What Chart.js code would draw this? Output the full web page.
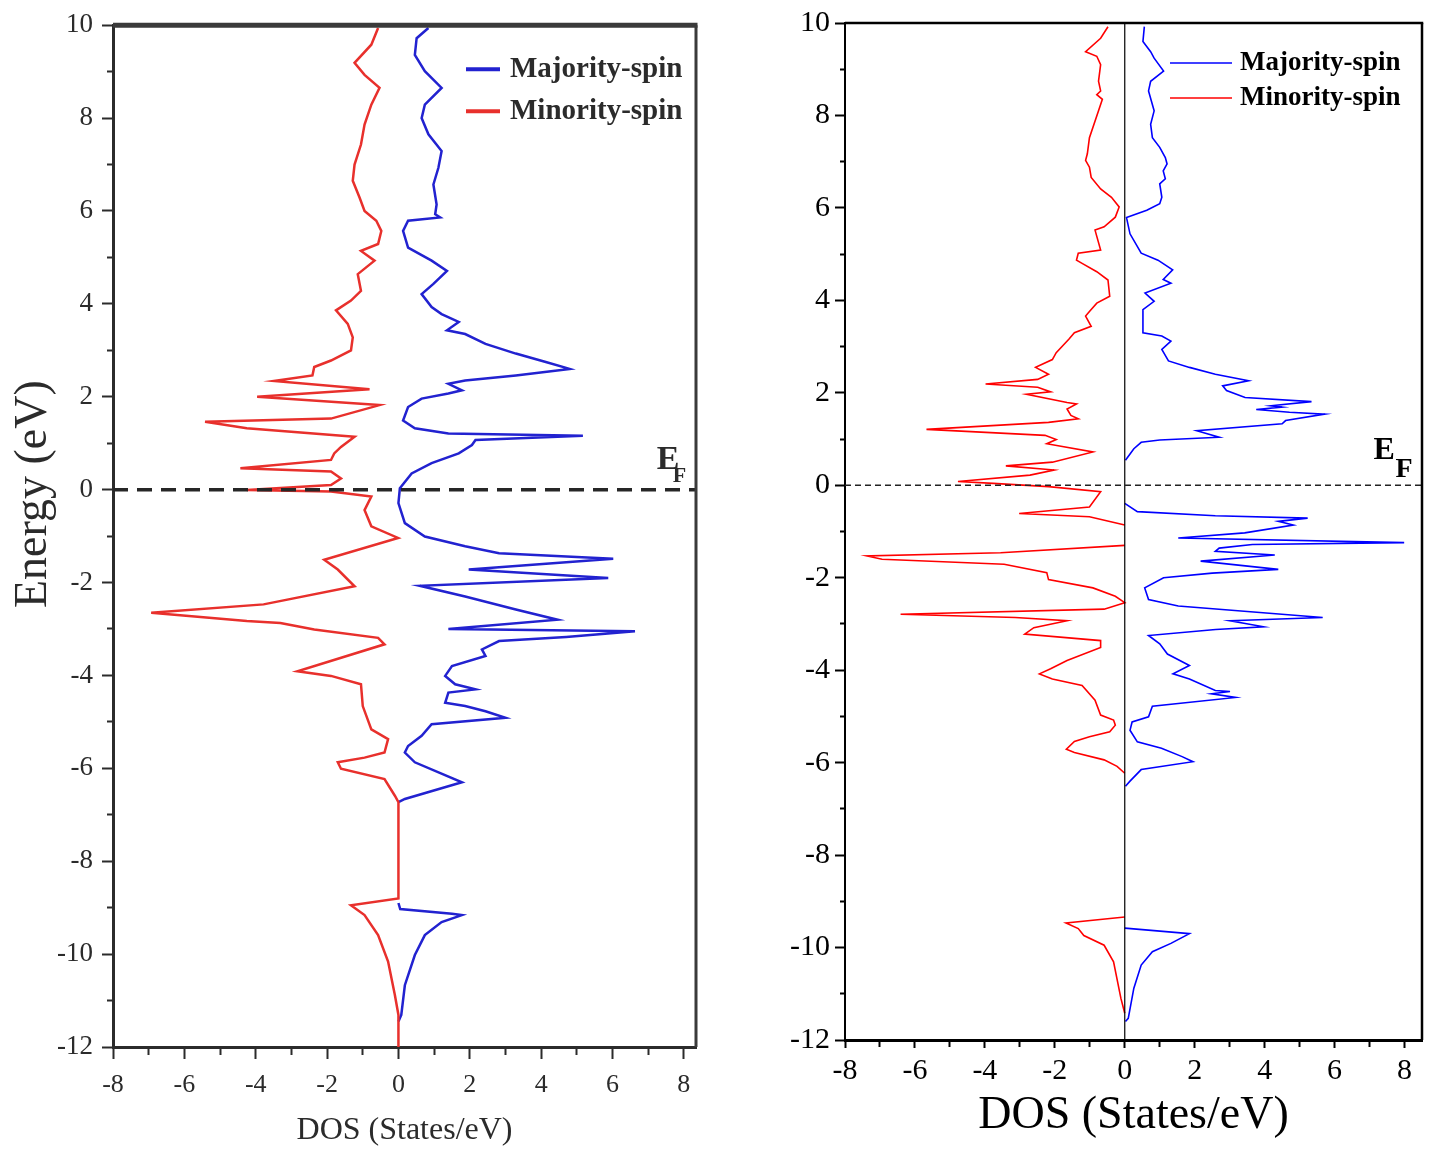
<!DOCTYPE html>
<html>
<head>
<meta charset="utf-8">
<title>DOS - majority / minority spin</title>
<script src="https://cdn.jsdelivr.net/npm/chart.js@4.4.1/dist/chart.umd.min.js"></script>
<style>
  body { margin: 0; background: #fff; width: 1432px; height: 1151px; position: relative; overflow: hidden; }
  #leftBox { position: absolute; left: 0; top: 0; width: 720px; height: 1151px; }
  #rightBox { position: absolute; left: 760px; top: 0; width: 672px; height: 1151px; }
</style>
</head>
<body>
<div id="leftBox"><canvas id="leftChart"></canvas></div>
<div id="rightBox"><canvas id="rightChart"></canvas></div>
<script>
// ---- data (DOS in States/eV, energy in eV) ----
const seriesLabels = ['Majority-spin', 'Minority-spin'];
const fermiEnergy = 0;

// left panel
const leftMajorityDos = [0.84, 0.51, 0.46, 0.74, 1.21, 0.74, 0.65, 0.84, 1.21, 1.12,
  0.98, 1.07, 1.03, 1.17, 0.27, 0.13, 0.27, 0.93, 1.36, 0.98,
  0.65, 0.93, 1.21, 1.69, 1.36, 1.87, 2.44, 3.29, 4.13, 4.80,
  3.29, 1.87, 1.40, 1.78, 1.40, 0.65, 0.27, 0.13, 0.46, 1.40,
  5.17, 2.16, 2.06, 1.69, 0.93, 0.37, 0.04, 0.00, 0.18, 0.74,
  1.87, 2.82, 6.02, 1.97, 5.88, 0.60, 1.87, 3.29, 4.46, 1.40,
  6.63, 4.70, 2.82, 2.34, 2.44, 1.50, 1.31, 1.59, 2.16, 1.40,
  1.31, 1.87, 2.44, 3.00, 0.93, 0.65, 0.27, 0.18, 0.46, 1.78,
  0.18, 0.00, null, 0.00, 0.05, 1.50, 1.78, 1.21, 0.74, 0.46,
  0.18, 0.08, 0.00];
const leftMajorityE = [9.94, 9.72, 9.36, 9.01, 8.65, 8.29, 8.00, 7.65, 7.29, 6.93,
  6.57, 6.14, 5.93, 5.86, 5.79, 5.57, 5.21, 4.93, 4.71, 4.43,
  4.21, 3.93, 3.78, 3.61, 3.43, 3.35, 3.14, 2.93, 2.75, 2.60,
  2.46, 2.35, 2.28, 2.14, 2.07, 1.96, 1.78, 1.49, 1.32, 1.21,
  1.16, 1.07, 0.96, 0.78, 0.57, 0.35, 0.03, -0.29, -0.72, -1.01,
  -1.22, -1.37, -1.49, -1.72, -1.90, -2.07, -2.30, -2.58, -2.80, -3.00,
  -3.05, -3.17, -3.26, -3.44, -3.58, -3.80, -4.01, -4.19, -4.30, -4.37,
  -4.59, -4.66, -4.77, -4.91, -5.05, -5.30, -5.52, -5.66, -5.87, -6.30,
  -6.66, -6.73, null, -8.90, -9.03, -9.13, -9.16, -9.31, -9.59, -10.02,
  -10.67, -11.31, -11.45];

const leftMinorityDos = [-0.57, -0.76, -1.23, -0.95, -0.53, -0.76, -0.95, -1.05, -1.23, -1.28,
  -1.09, -0.95, -0.62, -0.48, -0.57, -1.05, -0.67, -1.14, -1.05, -1.33,
  -1.75, -1.42, -1.28, -1.33, -1.89, -2.36, -2.41, -3.49, -0.81, -3.96,
  -0.53, -1.89, -5.42, -4.25, -1.23, -1.61, -1.80, -1.89, -4.43, -1.89,
  -1.61, -1.89, -4.25, -1.89, -0.76, -0.95, -0.76, -0.01, -2.08, -1.70,
  -1.23, -3.78, -6.93, -4.25, -3.31, -2.36, -0.57, -0.39, -2.83, -1.89,
  -1.05, -1.00, -0.76, -0.29, -0.39, -0.95, -1.70, -1.61, -0.39, -0.10,
  0.00, 0.00, -1.33, -0.95, -0.57, -0.29, -0.10, 0.00, 0.00];
const leftMinorityE = [9.94, 9.58, 9.19, 8.93, 8.65, 8.29, 7.86, 7.43, 7.00, 6.65,
  6.29, 6.00, 5.79, 5.57, 5.29, 5.14, 4.93, 4.64, 4.28, 4.07,
  3.86, 3.57, 3.28, 3.00, 2.78, 2.64, 2.46, 2.34, 2.16, 2.00,
  1.82, 1.53, 1.46, 1.32, 1.14, 0.92, 0.78, 0.64, 0.46, 0.39,
  0.24, 0.10, -0.01, -0.04, -0.15, -0.44, -0.79, -1.04, -1.51, -1.72,
  -2.08, -2.47, -2.65, -2.83, -2.87, -3.01, -3.19, -3.33, -3.91, -4.01,
  -4.19, -4.66, -5.16, -5.37, -5.66, -5.77, -5.87, -6.01, -6.23, -6.59,
  -6.73, -8.80, -8.95, -9.16, -9.59, -10.16, -10.88, -11.31, -12.00];

// right panel
const rightMajorityDos = [0.56, 0.52, 0.74, 0.84, 1.11, 0.74, 0.68, 0.84, 0.74, 0.79,
  1.00, 1.16, 1.21, 1.10, 1.16, 1.00, 1.06, 1.00, 0.63, 0.05,
  0.15, 0.47, 0.95, 1.37, 1.10, 1.32, 0.58, 0.84, 0.52, 0.52,
  1.06, 1.32, 1.06, 1.25, 1.85, 2.59, 3.54, 2.80, 2.91, 3.44,
  5.34, 4.18, 4.50, 3.76, 4.71, 5.72, 4.60, 4.50, 2.06, 2.70,
  1.00, 0.47, 0.26, 0.02, null, 0.00, 0.36, 2.59, 5.23, 4.39,
  4.82, 3.43, 1.53, 7.99, 3.65, 2.70, 2.59, 4.29, 2.17, 4.39,
  2.50, 1.11, 0.57, 0.68, 1.53, 5.66, 3.01, 3.97, 2.60, 0.68,
  1.00, 1.22, 1.85, 1.38, 1.85, 2.59, 3.01, 2.48, 3.17, 0.79,
  0.68, 0.21, 0.15, 0.36, 1.05, 1.64, 1.95, 0.47, 0.15, 0.02,
  null, 0.00, 1.85, 1.32, 0.79, 0.47, 0.26, 0.10, 0.02];
const rightMajorityE = [9.92, 9.60, 9.38, 9.24, 8.96, 8.74, 8.53, 8.10, 7.81, 7.52,
  7.31, 7.09, 6.95, 6.80, 6.63, 6.52, 6.23, 6.09, 5.95, 5.79,
  5.44, 5.02, 4.87, 4.66, 4.45, 4.37, 4.16, 3.98, 3.80, 3.30,
  3.23, 3.12, 2.94, 2.69, 2.55, 2.40, 2.26, 2.15, 2.05, 1.90,
  1.81, 1.72, 1.69, 1.64, 1.58, 1.54, 1.40, 1.33, 1.18, 1.04,
  0.98, 0.93, 0.79, 0.54, null, -0.39, -0.57, -0.66, -0.71, -0.78,
  -0.86, -1.03, -1.14, -1.24, -1.28, -1.36, -1.43, -1.51, -1.64, -1.82,
  -1.90, -2.00, -2.22, -2.47, -2.61, -2.86, -2.93, -3.06, -3.12, -3.25,
  -3.43, -3.65, -3.90, -4.08, -4.19, -4.44, -4.46, -4.51, -4.59, -4.78,
  -5.01, -5.12, -5.30, -5.55, -5.69, -5.87, -5.98, -6.15, -6.40, -6.51,
  null, -9.58, -9.70, -9.91, -10.09, -10.38, -10.88, -11.53, -11.60];

const rightMinorityDos = [-0.48, -0.69, -1.12, -0.80, -0.69, -0.75, -0.69, -0.80, -0.64, -0.75,
  -1.01, -1.07, -1.12, -1.01, -0.96, -0.69, -0.38, -0.16, -0.27, -0.59,
  -0.85, -0.69, -1.33, -1.38, -1.22, -0.80, -0.48, -0.43, -0.80, -1.01,
  -1.12, -0.96, -1.44, -1.60, -1.96, -2.07, -2.55, -2.18, -2.49, -3.98,
  -2.49, -2.12, -2.81, -1.65, -1.38, -1.65, -1.54, -1.33, -2.18, -5.67,
  -2.28, -1.96, -2.23, -0.91, -2.07, -3.40, -2.02, -2.71, -4.77, -3.76,
  -2.18, -0.69, -1.01, -3.02, -1.01, 0.00, null, 0.00, -3.55, -7.37,
  -6.94, -3.45, -2.23, -2.18, -0.91, -0.27, 0.00, -0.59, -6.41, -3.13,
  -1.65, -2.60, -2.86, -0.69, -0.69, -1.65, -2.12, -2.44, -2.07, -1.22,
  -0.85, -0.69, -0.32, -0.27, -0.43, -1.01, -1.44, -1.67, -1.44, -0.59,
  -0.22, 0.00, null, 0.00, -1.68, -1.33, -1.17, -0.59, -0.32, -0.11,
  0.00];
const rightMinorityE = [9.92, 9.67, 9.38, 9.28, 9.10, 8.74, 8.53, 8.45, 8.35, 8.10,
  7.52, 7.17, 7.03, 6.88, 6.66, 6.41, 6.23, 6.02, 5.80, 5.59,
  5.52, 5.09, 5.02, 4.87, 4.80, 4.62, 4.44, 4.09, 3.94, 3.76,
  3.66, 3.44, 3.30, 3.16, 2.87, 2.72, 2.55, 2.40, 2.29, 2.19,
  2.12, 2.02, 1.97, 1.79, 1.76, 1.65, 1.51, 1.44, 1.36, 1.21,
  1.08, 0.99, 0.90, 0.72, 0.50, 0.42, 0.33, 0.22, 0.08, 0.04,
  -0.03, -0.14, -0.47, -0.61, -0.68, -0.86, null, -1.30, -1.46, -1.53,
  -1.60, -1.71, -1.89, -2.04, -2.22, -2.40, -2.54, -2.68, -2.79, -2.86,
  -2.93, -3.08, -3.22, -3.36, -3.51, -3.79, -3.97, -4.08, -4.19, -4.33,
  -4.65, -4.97, -5.08, -5.19, -5.33, -5.44, -5.54, -5.71, -5.78, -5.94,
  -6.08, -6.23, null, -9.34, -9.47, -9.59, -9.74, -9.95, -10.31, -11.10,
  -11.42];

const serif = "'Liberation Serif', 'Times New Roman', serif";

function toPoints(dos, energy) {
  return dos.map((d, i) => ({ x: d, y: energy[i] }));
}

// odd values get a short (minor) tick and no label
const everyOther = v => (Math.abs(v % 2) === 1 ? '' : String(v));
const isMinor = c => c.tick && Math.abs(c.tick.value % 2) === 1;

// frame, legend, E_F label and vertical title
const dosDecor = {
  id: 'dosDecor',
  afterDraw(chart, args, o) {
    const { ctx, chartArea: a, scales } = chart;
    ctx.save();
    ctx.strokeStyle = o.frameColor;
    ctx.lineWidth = o.topWidth;
    ctx.beginPath();
    ctx.moveTo(a.left, a.top);
    ctx.lineTo(a.right + o.rightWidth / 2, a.top);
    ctx.stroke();
    ctx.lineWidth = o.rightWidth;
    ctx.beginPath();
    ctx.moveTo(a.right, a.top);
    ctx.lineTo(a.right, a.bottom);
    ctx.stroke();

    // legend
    ctx.font = o.legendFont;
    ctx.textBaseline = 'middle';
    ctx.textAlign = 'left';
    o.legendItems.forEach((idx, i) => {
      const ds = chart.data.datasets[idx];
      const y = a.top + o.legendY + i * o.legendDy;
      ctx.strokeStyle = ds.borderColor;
      ctx.lineWidth = o.legendLine;
      ctx.beginPath();
      ctx.moveTo(a.right + o.legendX0, y);
      ctx.lineTo(a.right + o.legendX1, y);
      ctx.stroke();
      ctx.fillStyle = o.textColor;
      ctx.fillText(ds.label, a.right + o.legendTx, y);
    });

    // E_F
    const ex = scales.x.getPixelForValue(o.efAt[0]);
    const ey = scales.y.getPixelForValue(o.efAt[1]);
    ctx.textBaseline = 'alphabetic';
    ctx.fillStyle = o.textColor;
    ctx.font = o.efFont;
    ctx.fillText('E', ex, ey);
    ctx.font = o.efSubFont;
    ctx.fillText('F', ex + o.efSub[0], ey + o.efSub[1]);

    if (o.yTitle) {
      ctx.translate(o.yTitleX, (a.top + a.bottom) / 2 + o.yTitleShift);
      ctx.rotate(-Math.PI / 2);
      ctx.textAlign = 'center';
      ctx.textBaseline = 'middle';
      ctx.font = o.yTitleFont;
      ctx.fillText(o.yTitle, 0, 0);
    }
    ctx.restore();
  }
};

function makeChart(id, p) {
  return new Chart(document.getElementById(id), {
    type: 'scatter',
    data: {
      datasets: p.datasets
    },
    options: {
      responsive: true,
      maintainAspectRatio: false,
      animation: false,
      events: [],
      layout: { padding: p.padding },
      elements: { point: { radius: 0 }, line: { tension: 0 } },
      plugins: {
        legend: { display: false },
        tooltip: { enabled: false },
        dosDecor: p.decor
      },
      scales: {
        x: {
          type: 'linear',
          min: -8,
          max: p.xMax,
          afterFit: s => { s.height = p.xAxisHeight; },
          border: { display: true, width: p.bottomWidth, color: p.axisColor },
          grid: {
            drawOnChartArea: false,
            tickLength: p.xTick,
            tickWidth: 2,
            tickColor: p.axisColor,
            tickBorderDash: c => (isMinor(c) ? [p.xMinor, 100] : [])
          },
          ticks: {
            stepSize: 1,
            includeBounds: false,
            autoSkip: false,
            maxRotation: 0,
            padding: p.xPad,
            color: p.axisColor,
            font: { family: serif, size: p.xFont },
            callback: everyOther
          },
          title: {
            display: true,
            text: 'DOS (States/eV)',
            color: p.axisColor,
            font: { family: serif, size: p.titleFont },
            padding: { top: 0, bottom: p.titlePad }
          }
        },
        y: {
          type: 'linear',
          min: -12,
          max: 10,
          afterFit: s => { s.width = p.yAxisWidth; },
          border: { display: true, width: p.leftWidth, color: p.axisColor },
          grid: {
            drawOnChartArea: false,
            tickLength: p.yTick,
            tickWidth: 2,
            tickColor: p.axisColor,
            tickBorderDash: c => (isMinor(c) ? [0, p.yTick - p.yMinor, p.yMinor, 100] : [])
          },
          ticks: {
            stepSize: 1,
            includeBounds: false,
            autoSkip: false,
            padding: p.yPad,
            color: p.axisColor,
            font: { family: serif, size: p.yFont },
            callback: everyOther
          }
        }
      }
    },
    plugins: [dosDecor]
  });
}

// ---------- left panel ----------
const leftText = '#2b2b2b';
makeChart('leftChart', {
  padding: { top: 22, right: 24, bottom: 0, left: 0 },
  xMax: 8.34, xAxisHeight: 104, yAxisWidth: 113,
  axisColor: leftText, bottomWidth: 3, leftWidth: 3,
  xTick: 12, xMinor: 6, yTick: 11, yMinor: 6,
  xPad: 11, yPad: 9, xFont: 26, yFont: 27,
  titleFont: 32, titlePad: 1,
  datasets: [
    {
      label: 'E_F', data: [{ x: -8, y: fermiEnergy }, { x: 8.34, y: fermiEnergy }],
      showLine: true, borderColor: '#262626', borderWidth: 3.5, borderDash: [15, 9]
    },
    {
      label: seriesLabels[1], data: toPoints(leftMinorityDos, leftMinorityE),
      showLine: true, borderColor: '#e8302c', borderWidth: 2.5
    },
    {
      label: seriesLabels[0], data: toPoints(leftMajorityDos, leftMajorityE),
      showLine: true, borderColor: '#2222d0', borderWidth: 2.5
    }
  ],
  decor: {
    frameColor: '#3a3a3a', topWidth: 5, rightWidth: 3,
    legendItems: [2, 1], legendFont: 'bold 29px ' + serif, textColor: leftText,
    legendX0: -230, legendX1: -196, legendTx: -186, legendY: 44, legendDy: 42, legendLine: 4,
    efAt: [7.24, 0.45], efFont: 'bold 34px ' + serif, efSubFont: 'bold 22px ' + serif, efSub: [16, 13],
    yTitle: 'Energy (eV)', yTitleX: 34, yTitleShift: -42, yTitleFont: '46px ' + serif
  }
});

// ---------- right panel ----------
makeChart('rightChart', {
  padding: { top: 18, right: 10, bottom: 0, left: 0 },
  xMax: 8.5, xAxisHeight: 111, yAxisWidth: 85,
  axisColor: '#000', bottomWidth: 3, leftWidth: 2,
  xTick: 8, xMinor: 5, yTick: 10, yMinor: 5,
  xPad: 5, yPad: 5, xFont: 30, yFont: 30,
  titleFont: 46, titlePad: 7,
  datasets: [
    {
      label: 'E_F', data: [{ x: -8, y: fermiEnergy }, { x: 8.5, y: fermiEnergy }],
      showLine: true, borderColor: '#222', borderWidth: 1.6, borderDash: [6, 4]
    },
    {
      label: 'zero', data: [{ x: 0, y: 10 }, { x: 0, y: -12 }],
      showLine: true, borderColor: '#000', borderWidth: 1.2
    },
    {
      label: seriesLabels[1], data: toPoints(rightMinorityDos, rightMinorityE),
      showLine: true, borderColor: '#ff0000', borderWidth: 1.6
    },
    {
      label: seriesLabels[0], data: toPoints(rightMajorityDos, rightMajorityE),
      showLine: true, borderColor: '#0000ff', borderWidth: 1.6
    }
  ],
  decor: {
    frameColor: '#000', topWidth: 2.5, rightWidth: 2.5,
    legendItems: [3, 2], legendFont: 'bold 27px ' + serif, textColor: '#000',
    legendX0: -252, legendX1: -190, legendTx: -182, legendY: 40, legendDy: 35, legendLine: 1.6,
    efAt: [7.11, 0.57], efFont: 'bold 32px ' + serif, efSubFont: 'bold 28px ' + serif, efSub: [22, 18],
    yTitle: null
  }
});
</script>
</body>
</html>
